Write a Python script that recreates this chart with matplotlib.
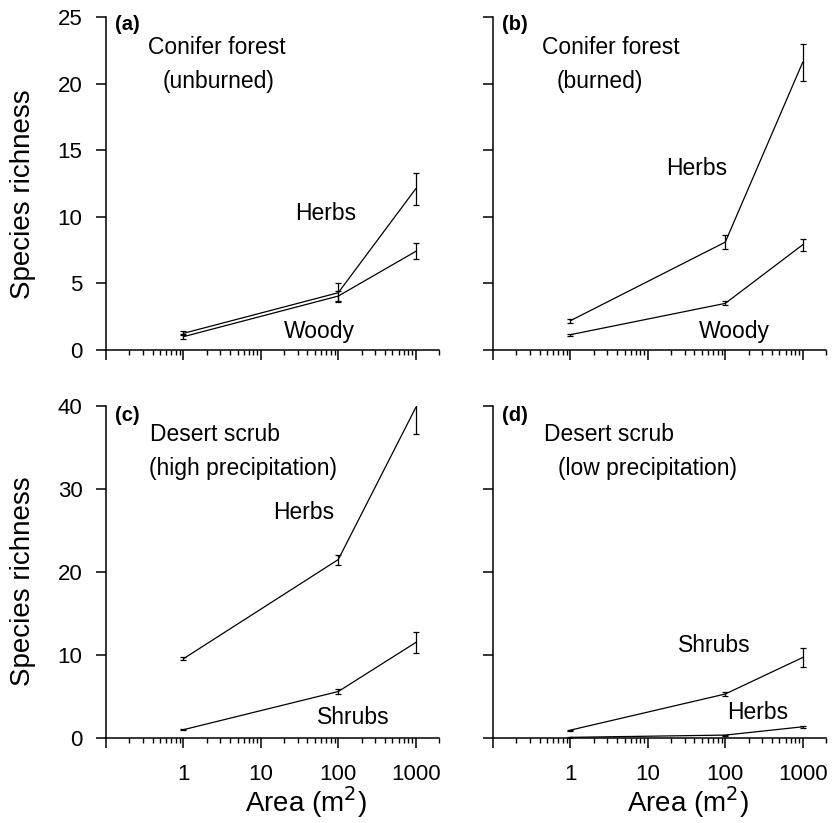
import numpy as np
import matplotlib
matplotlib.use("Agg")
import matplotlib.pyplot as plt

plt.rcParams['font.family'] = ['Liberation Sans', 'DejaVu Sans']

# plot sizes (m2)
area = [1, 100, 1000]

# (a) conifer forest, unburned
a_herbs = [1.25, 4.3, 12.1]
a_herbs_err = [0.15, 0.7, 1.2]
a_woody = [1.0, 4.05, 7.4]
a_woody_err = [0.2, 0.4, 0.6]

# (b) conifer forest, burned
b_herbs = [2.2, 8.1, 21.6]
b_herbs_err = [0.15, 0.55, 1.4]
b_woody = [1.15, 3.5, 7.9]
b_woody_err = [0.08, 0.15, 0.45]

# (c) desert scrub, high precipitation
c_herbs = [9.55, 21.5, 39.8]
c_herbs_err = [0.2, 0.6, 3.2]
c_shrubs = [1.0, 5.6, 11.5]
c_shrubs_err = [0.08, 0.25, 1.3]

# (d) desert scrub, low precipitation
d_shrubs = [0.95, 5.3, 9.7]
d_shrubs_err = [0.06, 0.2, 1.1]
d_herbs = [0.08, 0.35, 1.35]
d_herbs_err = [0.03, 0.05, 0.12]

xticks = [1, 10, 100, 1000]
xticklabels = ['1', '10', '100', '1000']

fig = plt.figure(figsize=(8.39, 8.23), dpi=100)
W, H = 839, 823

def make_ax(x0, y0, x1, y1):
    return fig.add_axes([x0 / W, 1 - y1 / H, (x1 - x0) / W, (y1 - y0) / H])

ax_a = make_ax(106, 17, 439, 350)
ax_b = make_ax(493, 17, 826, 350)
ax_c = make_ax(106, 406, 439, 738)
ax_d = make_ax(493, 406, 826, 738)

def style(ax, ymax, ystep, ylabels, xlabels):
    ax.set_xscale('log')
    ax.set_xlim(0.1, 2000)
    ax.set_ylim(0, ymax)
    ax.set_yticks(np.arange(0, ymax + 0.1, ystep))
    ax.set_xticks([0.1] + xticks)
    if xlabels:
        ax.set_xticklabels([''] + xticklabels)
    else:
        ax.set_xticklabels([''] * 5)
    if not ylabels:
        ax.set_yticklabels([])
    for s in ['top', 'right']:
        ax.spines[s].set_visible(False)
    for s in ['left', 'bottom']:
        ax.spines[s].set_linewidth(1.1)
    ax.tick_params(axis='both', which='major', direction='out', length=7,
                   width=1.1, labelsize=16)
    ax.tick_params(axis='both', which='minor', direction='out', length=3.5,
                   width=1.0)
    ax.tick_params(axis='x', pad=12)
    ax.tick_params(axis='y', pad=10)

def series(ax, y, err):
    ax.errorbar(area, y, yerr=err, color='black', lw=0.9, elinewidth=0.9,
                capsize=2.2, capthick=0.9)

def txt(ax, x, y, s, **kw):
    ax.text(x, y, s, transform=ax.transAxes, ha='center', va='center',
            fontsize=16.5, **kw)

style(ax_a, 25, 5, True, False)
style(ax_b, 25, 5, False, False)
style(ax_c, 40, 10, True, True)
style(ax_d, 40, 10, False, True)

series(ax_a, a_herbs, a_herbs_err)
series(ax_a, a_woody, a_woody_err)
series(ax_b, b_herbs, b_herbs_err)
series(ax_b, b_woody, b_woody_err)
series(ax_c, c_herbs, c_herbs_err)
series(ax_c, c_shrubs, c_shrubs_err)
series(ax_d, d_shrubs, d_shrubs_err)
series(ax_d, d_herbs, d_herbs_err)

for ax, lab, fy in [(ax_a, '(a)', 0.976), (ax_b, '(b)', 0.976),
                    (ax_c, '(c)', 0.97), (ax_d, '(d)', 0.97)]:
    ax.text(0.027, fy, lab, transform=ax.transAxes, ha='left', va='center',
            fontsize=14.5, fontweight='bold')

txt(ax_a, 0.333, 0.907, 'Conifer forest')
txt(ax_a, 0.339, 0.805, '(unburned)')
txt(ax_a, 0.661, 0.411, 'Herbs')
txt(ax_a, 0.640, 0.057, 'Woody')

txt(ax_b, 0.354, 0.907, 'Conifer forest')
txt(ax_b, 0.320, 0.805, '(burned)')
txt(ax_b, 0.613, 0.544, 'Herbs')
txt(ax_b, 0.725, 0.057, 'Woody')

txt(ax_c, 0.328, 0.913, 'Desert scrub')
txt(ax_c, 0.412, 0.813, '(high precipitation)')
txt(ax_c, 0.594, 0.678, 'Herbs')
txt(ax_c, 0.744, 0.063, 'Shrubs')

txt(ax_d, 0.347, 0.913, 'Desert scrub')
txt(ax_d, 0.465, 0.813, '(low precipitation)')
txt(ax_d, 0.664, 0.278, 'Shrubs')
txt(ax_d, 0.794, 0.078, 'Herbs')

fig.text(23 / W, 1 - 194 / H, 'Species richness', rotation=90,
         ha='center', va='center', fontsize=20)
fig.text(23 / W, 1 - 581 / H, 'Species richness', rotation=90,
         ha='center', va='center', fontsize=20)
fig.text(306 / W, 1 - 812 / H, 'Area (m$^2$)', ha='center', va='baseline',
         fontsize=20)
fig.text(688 / W, 1 - 812 / H, 'Area (m$^2$)', ha='center', va='baseline',
         fontsize=20)

fig.savefig('out.png', dpi=100)
